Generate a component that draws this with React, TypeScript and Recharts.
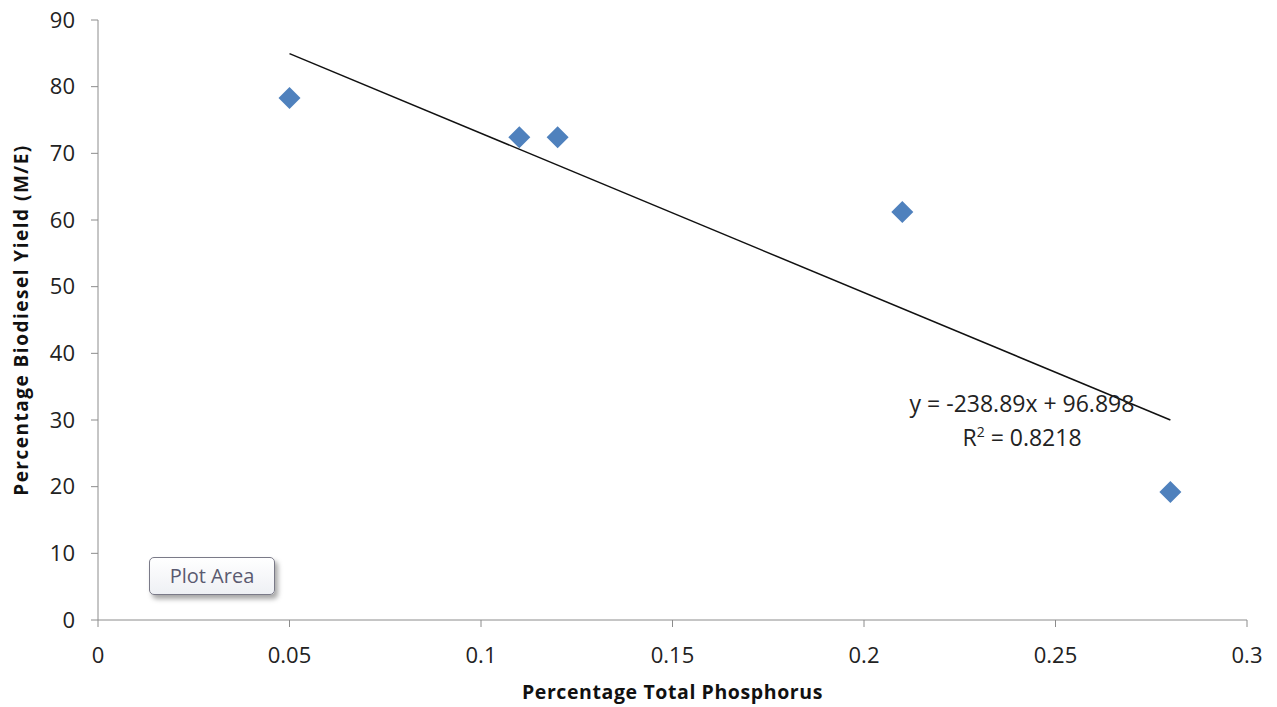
import {
  ScatterChart,
  Scatter,
  XAxis,
  YAxis,
  ReferenceLine,
} from "recharts";

const phosphorus = [0.05, 0.11, 0.12, 0.21, 0.28];
const yieldPct = [78.3, 72.4, 72.4, 61.2, 19.2];

const trendX = [0.05, 0.28];
const trendY = [84.95, 29.99];

const xTicks = [0, 0.05, 0.1, 0.15, 0.2, 0.25, 0.3];
const yTicks = [0, 10, 20, 30, 40, 50, 60, 70, 80, 90];

const points = phosphorus.map((x, i) => ({ x, y: yieldPct[i] }));

const FONT = "'Open Sans', 'Noto Sans', sans-serif";

function Diamond(props: any) {
  const { cx, cy } = props;
  const r = 11;
  return (
    <polygon
      points={`${cx},${cy - r} ${cx + r},${cy} ${cx},${cy + r} ${cx - r},${cy}`}
      fill="#4F81BD"
    />
  );
}

export default function App() {
  return (
    <div style={{ position: "absolute", left: 0, top: 0, width: 1277, height: 707, background: "#fff", fontFamily: FONT }}>
      <ScatterChart width={1277} height={707} margin={{ top: 20, right: 30, left: 38, bottom: 37 }}>
        <XAxis
          type="number"
          dataKey="x"
          domain={[0, 0.3]}
          ticks={xTicks}
          allowDataOverflow
          stroke="#8c8c8c"
          tickSize={7}
          tickMargin={20}
          height={50}
          tick={{ fontSize: 22, fill: "#222", fontFamily: FONT }}
          label={{
            value: "Percentage  Total Phosphorus",
            position: "bottom",
            offset: 15,
            style: { fontSize: 19.5, fontWeight: 700, fill: "#111", fontFamily: FONT, letterSpacing: 0.6 },
          }}
        />
        <YAxis
          type="number"
          dataKey="y"
          domain={[0, 90]}
          ticks={yTicks}
          allowDataOverflow
          stroke="#8c8c8c"
          tickSize={7}
          tickMargin={16}
          width={60}
          tick={{ fontSize: 22, fill: "#222", fontFamily: FONT }}
          label={{
            value: "Percentage  Biodiesel Yield (M/E)",
            angle: -90,
            position: "insideLeft",
            dx: -22,
            style: { fontSize: 19, fontWeight: 700, fill: "#111", fontFamily: FONT, textAnchor: "middle", letterSpacing: 1.5 },
          }}
        />
        <ReferenceLine
          segment={[
            { x: trendX[0], y: trendY[0] },
            { x: trendX[1], y: trendY[1] },
          ]}
          stroke="#111"
          strokeWidth={1.5}
        />
        <Scatter data={points} shape={<Diamond />} isAnimationActive={false} />
      </ScatterChart>
      <div
        style={{
          position: "absolute",
          left: 857,
          top: 386,
          width: 330,
          textAlign: "center",
          fontSize: 23,
          lineHeight: "34px",
          color: "#222",
        }}
      >
        <div>y = -238.89x + 96.898</div>
        <div>
          R<sup style={{ fontSize: 14, lineHeight: 0 }}>2</sup> = 0.8218
        </div>
      </div>
      <div
        style={{
          position: "absolute",
          left: 149,
          top: 557,
          width: 126,
          height: 38,
          boxSizing: "border-box",
          border: "1.5px solid #7a7a88",
          borderRadius: 5,
          background: "linear-gradient(#ffffff, #eef0f4)",
          boxShadow: "3px 4px 5px rgba(0,0,0,0.35)",
          color: "#5a5a70",
          fontSize: 20,
          lineHeight: "35px",
          textAlign: "center",
        }}
      >
        Plot Area
      </div>
    </div>
  );
}
